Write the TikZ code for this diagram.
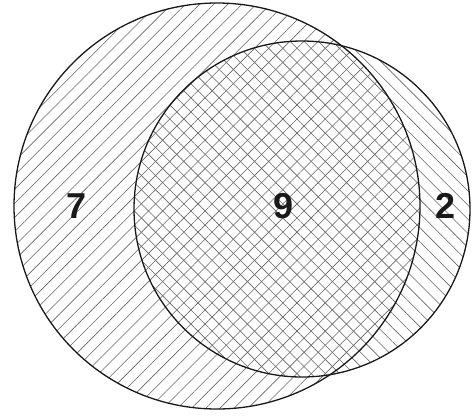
\documentclass[tikz,border=0pt]{standalone}
\usepackage{fontspec}
\setmainfont{Liberation Sans}
\usetikzlibrary{patterns.meta}
\tikzset{
  circ/.style={draw=black!90, line width=1.3pt},
  hatchA/.style={pattern={Lines[angle=45,distance=10pt,line width=0.6pt]}, pattern color=black!60},
  hatchB/.style={pattern={Lines[angle=-45,distance=10pt,line width=0.6pt]}, pattern color=black!60},
  lbl/.style={font=\fontsize{36}{36}\selectfont\bfseries, text=black!90, inner sep=0pt}
}
\begin{document}
\begin{tikzpicture}[x=1pt,y=-1pt]
\useasboundingbox (0,0) rectangle (476,416);
\fill[white] (0,0) rectangle (476,416);
\path[hatchA] (217,206) circle[radius=203];
\path[hatchB] (302,209) circle[radius=168];
\node[circ, circle, minimum size=406pt, inner sep=0pt] (A) at (217,206) {};
\node[circ, circle, minimum size=336pt, inner sep=0pt] (B) at (302,209) {};
\node[lbl] (l7) at (77,206) {7};
\node[lbl] (l9) at (284,206) {9};
\node[lbl] (l2) at (446,206) {2};
\end{tikzpicture}
\end{document}
